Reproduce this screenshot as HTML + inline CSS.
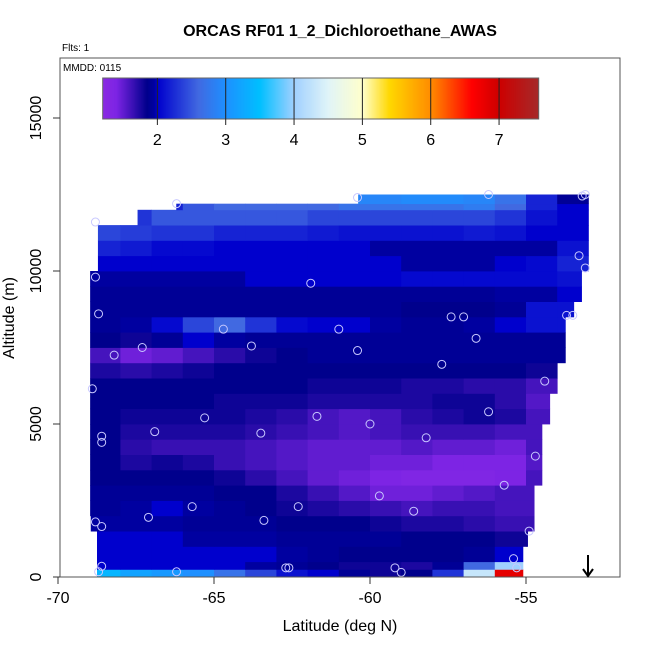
<!DOCTYPE html>
<html><head><meta charset="utf-8"><style>
html,body{margin:0;padding:0;background:#fff;}
svg text{font-family:"Liberation Sans",sans-serif;}
</style></head><body>
<svg id="c" width="650" height="650" xmlns="http://www.w3.org/2000/svg">
<rect x="0" y="0" width="650" height="650" fill="#fff"/>
<text x="340" y="36" font-size="16" font-weight="bold" text-anchor="middle">ORCAS RF01 1_2_Dichloroethane_AWAS</text>
<text x="62" y="51" font-size="10">Flts: 1</text>
<g id="heat"></g>
<g id="pts"></g>
<rect x="60" y="58" width="560" height="519" fill="none" stroke="#555" stroke-width="1"/>
<text x="63" y="71" font-size="10">MMDD: 0115</text>
<g id="cbar"></g>
<g id="axes"></g>
<g>
<line x1="588" y1="555" x2="588" y2="576" stroke="#000" stroke-width="2"/>
<polyline points="583,569 588,576 593,569" fill="none" stroke="#000" stroke-width="2"/>
</g>
<text x="340" y="631" font-size="16" text-anchor="middle">Latitude (deg N)</text>
<text x="0" y="0" font-size="16" text-anchor="middle" transform="translate(14,318) rotate(-90)">Altitude (m)</text>
</svg>
<script>
const latStart = -69;
const altBins = [[0,250],[250,500],[500,1000],[1000,1500],[1500,2000],[2000,2500],[2500,3000],[3000,3500],[3500,4000],[4000,4500],[4500,5000],[5000,5500],[5500,6000],[6000,6500],[6500,7000],[7000,7500],[7500,8000],[8000,8500],[8500,9000],[9000,9500],[9500,10000],[10000,10500],[10500,11000],[11000,11500],[11500,12000],[12000,12200],[12200,12500]];
const rowExtent = [[-68.75,-55.1],[-68.75,-55.1],[-68.75,-55.1],[-68.75,-54.95],[-68.95,-54.74],[-68.97,-54.74],[-68.97,-54.74],[-68.97,-54.49],[-68.97,-54.49],[-68.97,-54.49],[-68.97,-54.49],[-68.97,-54.24],[-68.97,-54.24],[-68.97,-54.0],[-68.97,-54.0],[-68.97,-53.74],[-68.97,-53.74],[-68.97,-53.74],[-68.97,-53.47],[-68.97,-53.22],[-68.97,-53.22],[-68.72,-53.0],[-68.72,-53.0],[-68.72,-53.0],[-67.45,-53.0],[-66.21,-53.0],[-60.38,-53.0]];
const values = [
[3.4,3.2,3.1,3.0,2.7,2.4,2.1,2.0,1.9,1.8,1.85,2.3,4.3,6.8,6.8,6.8],
[2.0,2.0,2.0,2.0,2.0,1.95,1.9,1.85,1.8,1.8,1.75,1.9,2.6,4.0,4.0,4.0],
[2.0,2.0,2.0,2.0,2.0,2.0,1.95,1.9,1.85,1.85,1.85,1.85,1.9,2.0,4.2,4.2],
[2.0,2.0,2.0,1.95,1.95,1.95,1.9,1.9,1.9,1.9,1.85,1.85,1.85,1.8,1.8,1.8],
[1.95,1.95,1.95,1.9,1.9,1.9,1.85,1.85,1.85,1.8,1.75,1.75,1.7,1.65,1.65,1.65],
[1.9,1.95,2.0,1.95,1.9,1.85,1.8,1.75,1.7,1.65,1.6,1.65,1.65,1.6,1.6,1.6],
[1.9,1.9,1.9,1.9,1.85,1.85,1.75,1.65,1.55,1.45,1.45,1.5,1.55,1.6,1.6,1.6],
[1.85,1.85,1.85,1.85,1.8,1.7,1.6,1.5,1.45,1.4,1.35,1.35,1.35,1.4,1.6,1.6],
[1.85,1.75,1.8,1.75,1.65,1.6,1.55,1.5,1.5,1.45,1.45,1.4,1.4,1.4,1.55,1.55],
[1.85,1.7,1.65,1.65,1.65,1.6,1.55,1.5,1.5,1.5,1.55,1.5,1.5,1.45,1.6,1.6],
[1.85,1.75,1.75,1.75,1.75,1.7,1.65,1.6,1.55,1.6,1.65,1.65,1.65,1.6,1.6,1.6],
[1.85,1.8,1.8,1.8,1.8,1.75,1.7,1.6,1.55,1.6,1.7,1.75,1.8,1.75,1.6,1.6],
[1.85,1.85,1.85,1.85,1.8,1.8,1.8,1.75,1.75,1.75,1.75,1.8,1.8,1.7,1.55,1.55],
[1.85,1.85,1.85,1.85,1.85,1.85,1.85,1.8,1.8,1.8,1.75,1.75,1.7,1.7,1.6,1.6],
[1.75,1.7,1.75,1.8,1.85,1.85,1.85,1.85,1.85,1.85,1.85,1.85,1.85,1.85,1.8,1.8],
[1.6,1.45,1.5,1.6,1.7,1.8,1.85,1.9,1.9,1.9,1.9,1.9,1.9,1.9,1.9,1.9],
[1.85,1.8,1.9,2.0,1.95,1.9,1.9,1.9,1.9,1.9,1.9,1.9,1.9,1.9,1.9,1.9],
[1.9,1.95,2.05,2.4,2.6,2.3,2.05,2.0,2.0,1.95,1.9,1.9,1.95,2.0,2.1,2.1],
[1.9,1.9,1.9,1.9,1.9,1.9,1.9,1.9,1.9,1.9,1.85,1.85,1.85,1.9,2.1,2.1],
[1.9,1.9,1.9,1.9,1.9,1.9,1.9,1.9,1.9,1.9,1.9,1.9,1.9,1.95,1.95,2.0],
[1.95,1.95,1.95,1.95,1.95,2.0,2.0,2.0,2.0,2.0,2.05,2.05,2.05,2.05,2.05,2.1],
[2.0,2.0,2.0,2.0,2.0,2.0,2.0,2.0,2.0,2.0,1.95,1.95,1.95,2.0,2.05,2.2],
[2.2,2.15,2.05,2.05,2.0,2.0,2.0,2.0,2.0,1.95,1.95,1.95,1.95,1.95,1.95,2.1],
[2.4,2.35,2.3,2.3,2.2,2.2,2.2,2.15,2.1,2.1,2.1,2.1,2.15,2.1,2.0,2.0],
[2.3,2.3,2.5,2.5,2.5,2.5,2.5,2.4,2.4,2.4,2.4,2.4,2.4,2.3,2.1,2.0],
[2.2,2.2,2.2,2.5,2.6,2.6,2.6,2.6,2.7,2.7,2.7,2.7,2.8,2.6,2.2,2.0],
[2.9,2.9,2.9,2.9,2.9,2.9,2.9,2.9,2.9,2.9,2.95,2.95,2.9,2.7,2.2,1.9]
];
const ptLat = [-68.8,-66.2,-60.4,-56.2,-53.1,-53.2,-53.3,-53.1,-68.8,-61.9,-68.7,-57.4,-57,-53.7,-53.5,-64.7,-61,-56.6,-67.3,-63.8,-60.4,-68.2,-57.7,-54.4,-68.9,-56.2,-65.3,-61.7,-60,-66.9,-63.5,-68.6,-68.6,-58.2,-54.7,-55.7,-59.7,-58.6,-62.3,-65.7,-67.1,-63.4,-68.8,-68.6,-54.9,-55.4,-55.3,-59.2,-59,-62.7,-62.6,-66.2,-68.7,-68.6];
const ptAlt = [11600,12200,12400,12500,12500,12450,10500,10100,9800,9600,8600,8500,8500,8550,8550,8100,8100,7800,7500,7550,7400,7250,6950,6400,6150,5400,5200,5250,5000,4750,4700,4600,4400,4550,3950,3000,2650,2150,2300,2300,1950,1850,1800,1650,1500,600,300,300,150,300,300,170,170,350];
const cbTicks = [2,3,4,5,6,7];
const xTicks = [-70,-65,-60,-55];
const yTicks = [0,5000,10000,15000];

const NS='http://www.w3.org/2000/svg';
function xs(l){return 58+(l+70)*31.2;}
function ys(a){return 577-a*0.0306;}
const stops=[[1.2,[138,43,226]],[1.4,[125,36,228]],[1.85,[0,0,140]],[1.95,[0,0,160]],[2.0,[0,0,205]],[2.6,[65,105,225]],[3.0,[30,144,255]],[3.5,[0,191,255]],[4.0,[160,208,255]],[4.5,[224,244,248]],[5.0,[255,255,204]],[5.4,[255,215,0]],[6.0,[255,140,0]],[6.6,[255,0,0]],[7.0,[205,0,0]],[7.58,[165,42,42]]];
function col(v){
  if(v<=stops[0][0])return 'rgb('+stops[0][1]+')';
  for(let i=1;i<stops.length;i++){if(v<=stops[i][0]){const a=stops[i-1],b=stops[i];const t=(v-a[0])/(b[0]-a[0]);const c=a[1].map((x,j)=>Math.round(x+(b[1][j]-x)*t));return 'rgb('+c+')';}}
  return 'rgb('+stops[stops.length-1][1]+')';
}
function mk(tag,attrs,parent){const e=document.createElementNS(NS,tag);for(const k in attrs)e.setAttribute(k,attrs[k]);parent.appendChild(e);return e;}

const heat=document.getElementById('heat');
altBins.forEach((b,r)=>{
  const ex=rowExtent[r];
  values[r].forEach((v,i)=>{
    const l0=Math.max(latStart+i,ex[0]), l1=Math.min(latStart+i+1,ex[1]);
    if(l1<=l0)return;
    const e=mk('rect',{x:xs(l0),y:ys(b[1]),width:xs(l1)-xs(l0)+0.4,height:ys(b[0])-ys(b[1])+0.4,fill:col(v)},heat);
    
    
  });
});
const pts=document.getElementById('pts');
ptLat.forEach((l,i)=>{
  const e=mk('circle',{cx:xs(l),cy:ys(ptAlt[i]),r:4,fill:'none',stroke:'#c8c8ff','stroke-width':1},pts);
  
  
});
const cb=document.getElementById('cbar');
const cbx0=102.7,cbx1=538.7,cbv0=1.2,cbv1=7.58;
function cbx(v){return cbx0+(v-cbv0)/(cbv1-cbv0)*(cbx1-cbx0);}
for(let x=cbx0;x<cbx1;x+=1){const e=mk('rect',{x:x,y:78,width:1.3,height:41,fill:col(cbv0+(x+0.5-cbx0)/(cbx1-cbx0)*(cbv1-cbv0))},cb);
  
  }
mk('rect',{x:cbx0,y:78,width:cbx1-cbx0,height:41,fill:'none',stroke:'#666'},cb);
cbTicks.forEach(t=>{
  mk('line',{x1:cbx(t),y1:78,x2:cbx(t),y2:125,stroke:'#222','stroke-width':1},cb);
  const e=mk('text',{x:cbx(t),y:145,'font-size':16,'text-anchor':'middle'},cb);e.textContent=t;
  
  
});
const ax=document.getElementById('axes');
xTicks.forEach(t=>{
  mk('line',{x1:xs(t),y1:577,x2:xs(t),y2:584,stroke:'#333'},ax);
  const e=mk('text',{x:xs(t),y:603,'font-size':16,'text-anchor':'middle'},ax);e.textContent=t;
  
  
});
yTicks.forEach(t=>{
  mk('line',{x1:53,y1:ys(t),x2:60,y2:ys(t),stroke:'#333'},ax);
  const e=mk('text',{x:0,y:0,'font-size':16,'text-anchor':'middle',transform:'translate(41,'+ys(t)+') rotate(-90)'},ax);e.textContent=t;
  
  
});
</script>
</body></html>
